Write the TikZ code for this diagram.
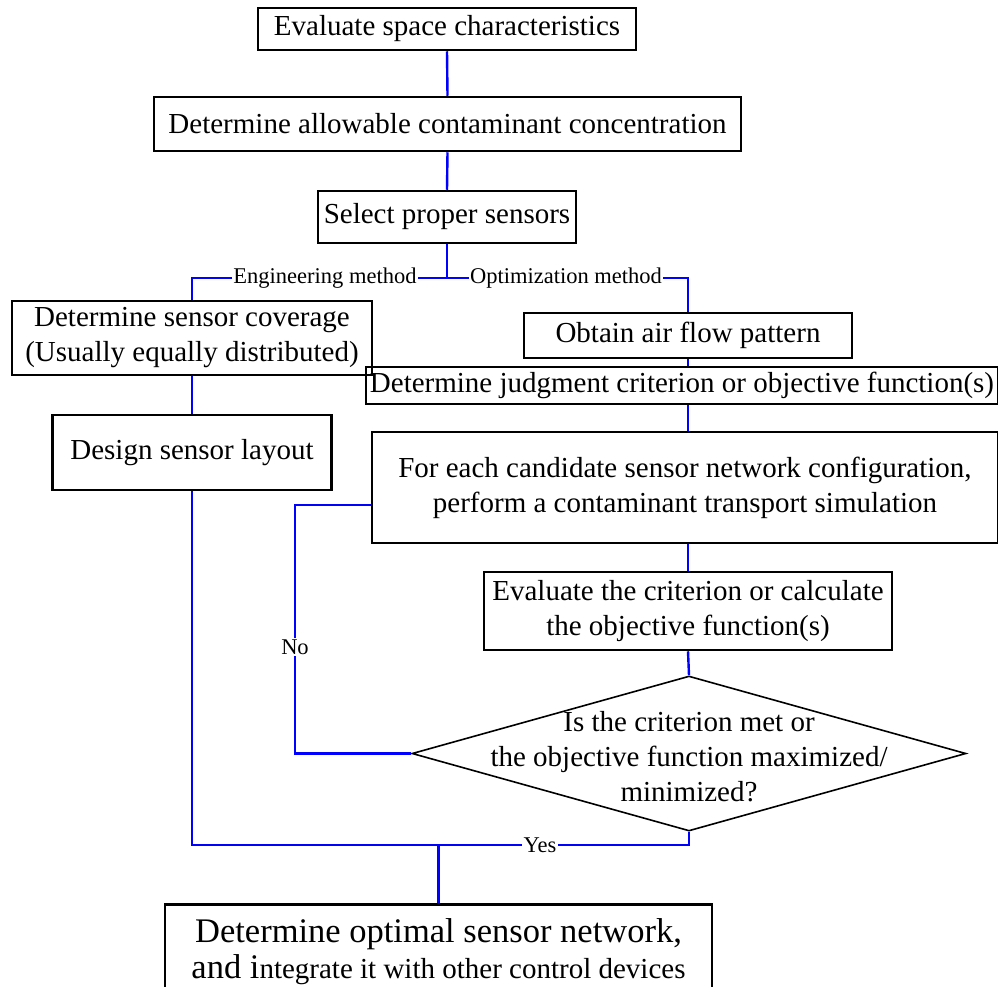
\documentclass[tikz,border=0pt]{standalone}
\usepackage{fontspec}
\setmainfont{Liberation Serif}
\usetikzlibrary{shapes.geometric}
\begin{document}
\begin{tikzpicture}[x=1pt,y=-1pt,
  box/.style={draw=black, line width=2.5pt, rectangle, inner sep=0pt, align=center,
              font=\fontsize{29pt}{35pt}\selectfont},
  conn/.style={draw=blue, line width=2.4pt},
  lbl/.style={fill=white, inner sep=1.2pt, font=\fontsize{22.5pt}{26pt}\selectfont},
  dtext/.style={inner sep=0pt, align=center, font=\fontsize{29pt}{35pt}\selectfont}]
\useasboundingbox (0,0) rectangle (998,986);
\clip (0,0) rectangle (998,986);
\fill[white] (0,0) rectangle (998,986);

% boxes
\node[box, minimum width=378pt, minimum height=42pt] (b1) at (447,29) {Evaluate space characteristics};
\node[box, minimum width=587pt, minimum height=54pt] (b2) at (447.5,124) {Determine allowable contaminant concentration};
\node[box, minimum width=258pt, minimum height=52pt] (b3) at (447,217) {Select proper sensors};
\node[box, minimum width=360pt, minimum height=74pt] (cov) at (192,338) {Determine sensor coverage\\(Usually equally distributed)};
\node[box, minimum width=279pt, minimum height=75pt] (lay) at (192,452.5) {Design sensor layout};
\node[box, minimum width=328pt, minimum height=45pt] (air) at (688,335.5) {Obtain air flow pattern};
\node[box, minimum width=632pt, minimum height=37pt] (judg) at (682,385.5) {Determine judgment criterion or objective function(s)};
\node[box, minimum width=626pt, minimum height=111pt] (each) at (685,487.5) {For each candidate sensor network configuration,\\perform a contaminant transport simulation};
\node[box, minimum width=408pt, minimum height=78pt] (eval) at (688,611) {Evaluate the criterion or calculate\\the objective function(s)};
\node[draw=black, line width=1.6pt, diamond, inner sep=0pt, minimum width=554pt, minimum height=155pt] (dia) at (689,753.5) {};
\node[dtext] (diat) at (689,757) {Is the criterion met or\\the objective function maximized/\\minimized?};
\node[box, minimum width=547pt, minimum height=100pt, anchor=north] (fin) at (438.5,903) {};
\node[inner sep=0pt, align=center, anchor=north] (fint) at (438.5,918)
  {{\fontsize{34.5pt}{36pt}\selectfont Determine optimal sensor network,}\\[4pt]{\fontsize{34.5pt}{36pt}\selectfont and i}{\fontsize{29pt}{36pt}\selectfont ntegrate it with other control devices}};

% labels
\node[lbl] (eng) at (325,278) {Engineering method};
\node[lbl] (opt) at (566,278) {Optimization method};
\node[lbl] (no) at (295,647) {No};
\node[lbl] (yes) at (540,845) {Yes};
\coordinate (nin) at (each.west |- 0,505);

% connectors
\draw[conn] (b1.south) -- (b2.north);
\draw[conn] (b2.south) -- (b3.north);
\draw[conn] (b3.south) |- (eng.east);
\draw[conn] (b3.south |- eng.east) -- (opt.west);
\draw[conn] (eng.west) -| (cov.north);
\draw[conn] (opt.east) -| (air.north);
\draw[conn] (cov.south) -- (lay.north);
\draw[conn] (air.south) -- (air.south |- judg.north);
\draw[conn] (air.south |- judg.south) -- (air.south |- each.north);
\draw[conn] (eval.north |- each.south) -- (eval.north);
\draw[conn] (eval.south) -- (dia.north);
\draw[conn] (dia.west) -| (no.south);
\draw[conn] (no.north) |- (nin);
\draw[conn] (dia.south) |- (yes.east);
\draw[conn] (lay.south) |- (yes.west);
\draw[conn] (fin.north) -- (fin.north |- yes.west);
\end{tikzpicture}
\end{document}
